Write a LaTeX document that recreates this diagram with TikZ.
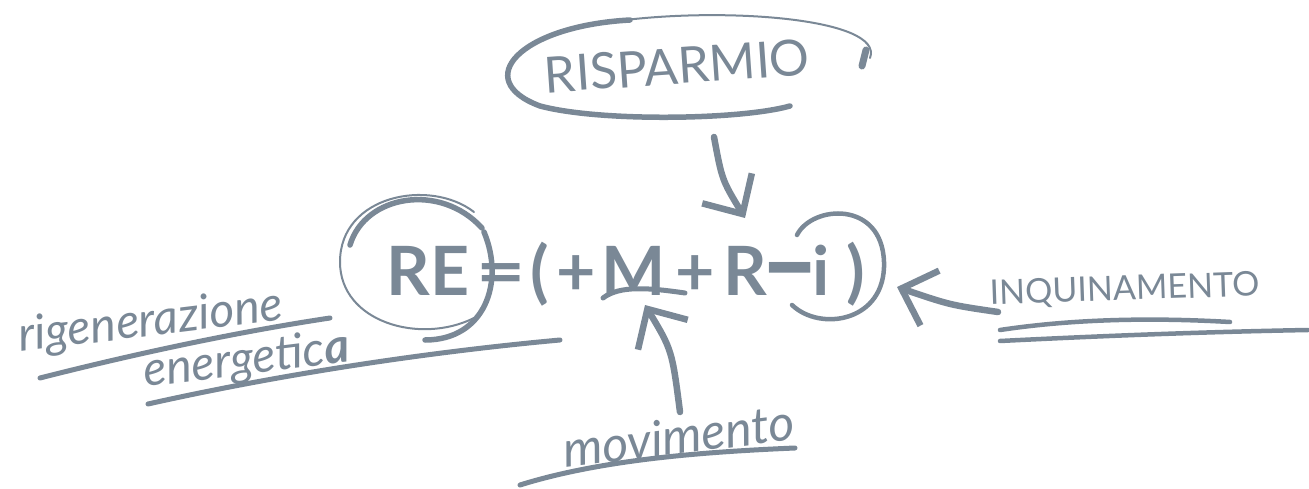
\documentclass[tikz,border=0pt]{standalone}
\usepackage{fontspec}
\setmainfont{Lato}
\usetikzlibrary{arrows.meta}
\definecolor{ink}{RGB}{122,136,150}
\begin{document}
\begin{tikzpicture}[x=1pt,y=-1pt, line cap=round, line join=round,
  txt/.style={inner sep=0pt, text=ink},
  eqs/.style={txt, font=\fontsize{68}{68}\selectfont\bfseries, anchor=base},
  hand/.style={txt, font=\fontsize{48}{48}\selectfont\itshape, anchor=base west},
  caps/.style={txt, font=\fontsize{34}{34}\selectfont, anchor=base west},
  pen/.style={draw=ink, line width=#1},
  arr/.style={draw=ink, line width=6.5pt, -{Straight Barb[length=30pt,width=58pt,line width=6.5pt]}},
]
\useasboundingbox (0,0) rectangle (1309,489);

% RISPARMIO
\node[txt, font=\fontsize{50}{50}\selectfont, rotate=4] (risp) at (677,66) {RISPARMIO};
\draw[pen=5.5pt] (630,20) .. controls (520,26) and (470,80) .. (540,106)
   .. controls (600,122) and (740,120) .. (790,106);
\draw[pen=2pt] (610,22) .. controls (720,6) and (885,18) .. (870,58);
\draw[pen=7pt] (866,50) -- (862,66);

% equation
\node[eqs] (RE) at (428,295) {RE};
\node[eqs, xscale=1.25] (eq) at (501,295) {=};
\node[eqs] (lp) at (540,295) {(};
\node[eqs] (p1) at (576,295) {+};
\node[eqs] (M) at (634,295) {M};
\node[eqs] (p2) at (695,295) {+};
\node[eqs] (R) at (745,295) {R};
\node[eqs, anchor=center, xscale=1.5, yscale=1.8] (mi) at (790,283) {–};
\node[eqs] (ii) at (821,295) {i};
\node[eqs] (rp) at (856,295) {)};

% circle round RE
\draw[pen=2pt] (474,212) .. controls (430,178) and (340,195) .. (340,262)
   .. controls (340,322) and (420,345) .. (474,318);
\draw[pen=5.5pt] (350,245) .. controls (365,195) and (440,182) .. (482,228);
\draw[pen=5.5pt] (484,232) .. controls (505,282) and (485,340) .. (425,340);
% circle round i)
\draw[pen=4.5pt] (797,235) .. controls (812,205) and (882,200) .. (884,262)
   .. controls (886,322) and (820,332) .. (792,305);
% arc under M
\draw[pen=5pt] (603,298) .. controls (620,285) and (650,288) .. (685,293);

% labels
\node[hand, rotate=7] (rig) at (20,352) {rigenerazione};
\node[hand, rotate=7] (ene) at (145,387) {energetic\textbf{a}};
\draw[pen=5pt] (40,378) .. controls (150,350) and (250,330) .. (330,318);
\draw[pen=5pt] (148,404) .. controls (300,370) and (450,350) .. (560,340);

\node[hand, font=\fontsize{50}{50}\selectfont\itshape, rotate=7] (mov) at (565,468) {movimento};
\draw[pen=5pt] (520,485) .. controls (600,460) and (700,452) .. (795,448);

\node[caps, rotate=2] (inq) at (990,305) {INQUINAMENTO};
\draw[pen=4.5pt] (1000,330) .. controls (1080,318) and (1160,318) .. (1230,322);
\draw[pen=4.5pt] (1000,341) .. controls (1100,336) and (1200,332) .. (1308,330);

% arrows
\coordinate (startR) at (714,137);
\coordinate (tipR) at (745,218);
\coordinate (startM) at (680,412);
\coordinate (tipM) at (645,305);
\coordinate (startI) at (998,312);
\coordinate (tipI) at (897,287);
\draw[arr] (startR) .. controls (722,180) .. (tipR);
\draw[arr] (startM) .. controls (672,350) .. (tipM);
\draw[arr] (startI) .. controls (950,305) .. (tipI);
\end{tikzpicture}
\end{document}
